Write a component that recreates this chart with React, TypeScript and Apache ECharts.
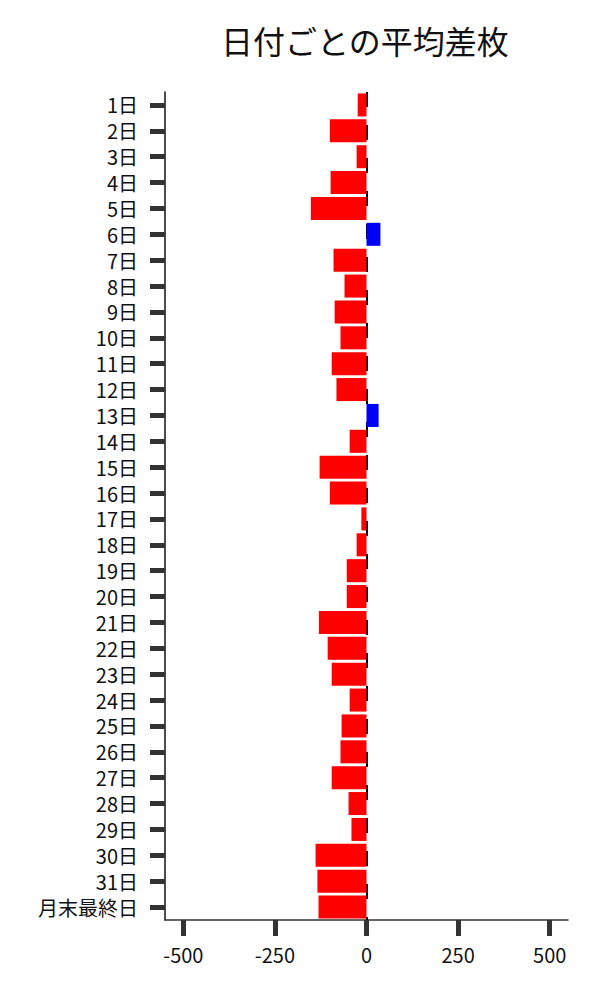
import { useEffect, useRef } from 'react';
import * as echarts from 'echarts';

const days = [
  '1日', '2日', '3日', '4日', '5日', '6日', '7日', '8日', '9日', '10日',
  '11日', '12日', '13日', '14日', '15日', '16日', '17日', '18日', '19日', '20日',
  '21日', '22日', '23日', '24日', '25日', '26日', '27日', '28日', '29日', '30日',
  '31日', '月末最終日',
];

const avgDiff = [
  -24, -100, -27, -98, -152, 38, -90, -60, -87, -71,
  -95, -82, 33, -46, -128, -100, -14, -27, -54, -54,
  -130, -106, -95, -46, -68, -71, -95, -49, -41, -139,
  -134, -131,
];

const xTicks = [-500, -250, 0, 250, 500];

const FONT = '"Noto Sans CJK JP", "Noto Sans", sans-serif';

export default function App() {
  const chartRef = useRef<HTMLDivElement>(null);

  useEffect(() => {
    if (!chartRef.current) return;
    const chart = echarts.init(chartRef.current, undefined, { renderer: 'svg' });

    const option: echarts.EChartsOption = {
      animation: false,
      backgroundColor: '#ffffff',
      textStyle: { fontFamily: FONT },
      title: {
        text: '日付ごとの平均差枚',
        left: 216,
        top: 19,
        textStyle: { fontFamily: FONT, fontSize: 32, fontWeight: 'normal', color: '#111' },
      },
      grid: { left: 165, top: 92, width: 403, height: 828, containLabel: false },
      xAxis: {
        type: 'value',
        min: -550,
        max: 550,
        splitLine: { show: false },
        axisLine: { show: true, onZero: false, lineStyle: { color: '#333', width: 1.5 } },
        axisTick: {
          show: true,
          customValues: xTicks,
          length: 16,
          lineStyle: { color: '#333', width: 5 },
        },
        axisLabel: {
          customValues: xTicks,
          margin: 24,
          fontSize: 20,
          color: '#111',
          fontFamily: FONT,
        },
      },
      yAxis: {
        type: 'category',
        inverse: true,
        data: days,
        axisLine: { show: true, onZero: false, lineStyle: { color: '#111', width: 1.5 } },
        axisTick: {
          show: true,
          interval: 0,
          alignWithLabel: true,
          length: 15,
          lineStyle: { color: '#333', width: 5 },
        },
        axisLabel: {
          interval: 0,
          margin: 27,
          fontSize: 20,
          lineHeight: 22,
          color: '#111',
          fontFamily: FONT,
        },
      },
      series: [
        {
          type: 'bar',
          data: avgDiff.map((v) => ({
            value: v,
            itemStyle: { color: v >= 0 ? '#0000ff' : '#ff0000' },
          })),
          barCategoryGap: '11%',
          z: 2,
          markLine: {
            silent: true,
            z: 1,
            symbol: 'none',
            label: { show: false },
            lineStyle: { color: '#000', width: 2, type: [15, 18] },
            data: [{ xAxis: 0 }],
          },
        },
      ],
    };

    chart.setOption(option);
    return () => chart.dispose();
  }, []);

  return <div ref={chartRef} style={{ width: 600, height: 1000, margin: -8 }} />;
}
